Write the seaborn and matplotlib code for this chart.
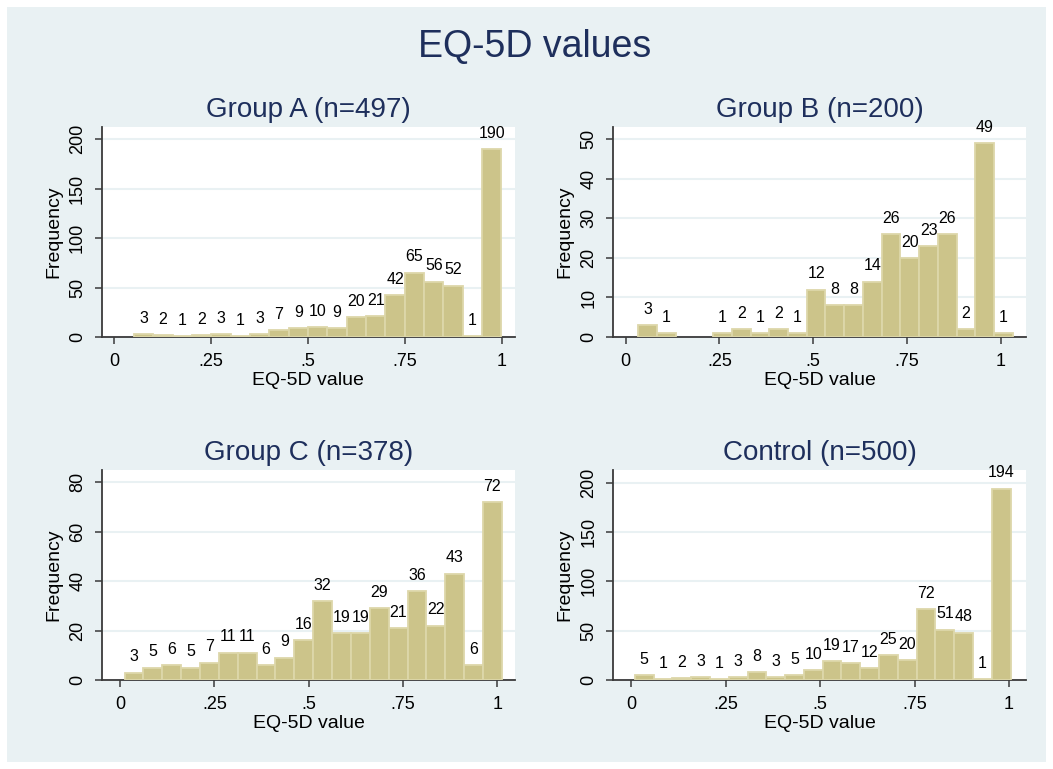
"""
EQ-5D value histograms, one panel per group.
"""
import matplotlib
matplotlib.use("Agg")
import matplotlib.pyplot as plt
from matplotlib.patches import Rectangle
import numpy as np
import pandas as pd
import seaborn as sns

# counts per bin
counts_a = [3, 2, 1, 2, 3, 1, 3, 7, 9, 10, 9, 20, 21, 42, 65, 56, 52, 1, 190]
counts_b = [3, 1, 0, 0, 1, 2, 1, 2, 1, 12, 8, 8, 14, 26, 20, 23, 26, 2, 49, 1]
counts_c = [3, 5, 6, 5, 7, 11, 11, 6, 9, 16, 32, 19, 19, 29, 21, 36, 22, 43, 6, 72]
counts_d = [5, 1, 2, 3, 1, 3, 8, 3, 5, 10, 19, 17, 12, 25, 20, 72, 51, 48, 1, 194]

# first bin edge and bin width per group (EQ-5D units)
bin_start = {"A": 0.051, "B": 0.033, "C": 0.012, "D": 0.010}
bin_width = {"A": 0.0499, "B": 0.050, "C": 0.050, "D": 0.0497}

titles = ["Group A (n=497)", "Group B (n=200)", "Group C (n=378)", "Control (n=500)"]
x_ticks = [0, 0.25, 0.5, 0.75, 1]
x_ticklabels = ["0", ".25", ".5", ".75", "1"]
y_ticks = {
    "A": [0, 50, 100, 150, 200],
    "B": [0, 10, 20, 30, 40, 50],
    "C": [0, 20, 40, 60, 80],
    "D": [0, 50, 100, 150, 200],
}

BG = "#E9F1F3"
BAR = "#CCC48A"
BAR_EDGE = "#DDD7AA"
NAVY = "#1E2F5C"
AXIS = "#3A3A3A"

sns.set_theme(style="white")
plt.rcParams["font.family"] = ["Liberation Sans", "DejaVu Sans"]

fig = plt.figure(figsize=(10.53, 7.69), dpi=100, facecolor="white")
fig.patches.append(
    Rectangle((7 / 1053, 7 / 769), 1039 / 1053, 755 / 769,
              transform=fig.transFigure, facecolor=BG, edgecolor="none", zorder=-10)
)

W, H = 1053, 769
# axes boxes in pixels: left, right, top, bottom
boxes = {
    "A": (101.7, 515, 126.7, 337),
    "B": (613.3, 1025.7, 126.7, 337),
    "C": (102, 515, 470, 680),
    "D": (613.3, 1025.7, 470, 680),
}
xlims = {"A": (-0.032, 1.034), "B": (-0.033, 1.067), "C": (-0.048, 1.047), "D": (-0.047, 1.044)}
ylims = {"A": (0, 212.8), "B": (0, 53.2), "C": (0, 85.0), "D": (0, 212.9)}

all_counts = {"A": counts_a, "B": counts_b, "C": counts_c, "D": counts_d}

for key, title in zip(["A", "B", "C", "D"], titles):
    l, r, t, b = boxes[key]
    ax = fig.add_axes([l / W, 1 - b / H, (r - l) / W, (b - t) / H])
    ax.set_facecolor("white")

    counts = np.array(all_counts[key])
    edges = bin_start[key] + bin_width[key] * np.arange(len(counts) + 1)
    df = pd.DataFrame({"value": (edges[:-1] + edges[1:]) / 2, "count": counts})

    sns.histplot(data=df, x="value", weights="count", bins=edges.tolist(), ax=ax,
                 color=BAR, edgecolor=BAR_EDGE, linewidth=1.3, alpha=1, zorder=3)
    bars = ax.containers[0]
    for patch in bars.patches:
        if patch.get_height() == 0:
            patch.set_visible(False)
    ax.bar_label(bars, labels=[str(c) if c > 0 else "" for c in counts],
                 padding=6, fontsize=11.5, color="black")

    ax.set_xlim(*xlims[key])
    ax.set_ylim(*ylims[key])
    ax.set_xticks(x_ticks)
    ax.set_xticklabels(x_ticklabels)
    ax.set_yticks(y_ticks[key])
    ax.set_yticklabels([str(v) for v in y_ticks[key]], rotation=90, va="center")

    ax.grid(axis="y", color=BG, linewidth=1.5, zorder=0)
    ax.set_axisbelow(True)
    for side in ["top", "right"]:
        ax.spines[side].set_visible(False)
    for side in ["left", "bottom"]:
        ax.spines[side].set_color(AXIS)
        ax.spines[side].set_linewidth(1.3)
    ax.tick_params(axis="both", which="major", direction="out", length=5.3,
                   width=1.1, color=AXIS, labelsize=13, pad=6, labelcolor="black")
    ax.tick_params(left=True, bottom=True)

    ax.set_xlabel("EQ-5D value", fontsize=14, color="black", labelpad=2)
    ax.set_ylabel("Frequency", fontsize=14, color="black", labelpad=5)
    ax.set_title(title, fontsize=20, color=NAVY, pad=7)

fig.text(535 / W, 1 - 47 / H, "EQ-5D values", fontsize=27, color=NAVY,
         ha="center", va="center")

fig.savefig("out.png", dpi=100, facecolor=fig.get_facecolor())
